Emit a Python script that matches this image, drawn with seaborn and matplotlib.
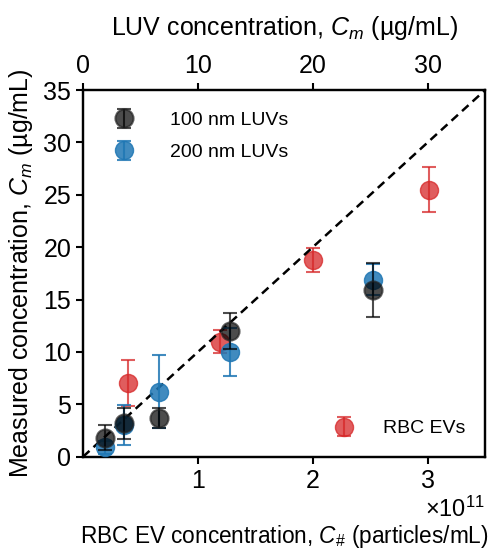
import matplotlib
matplotlib.use("Agg")
import matplotlib.pyplot as plt
from matplotlib.ticker import ScalarFormatter
import seaborn as sns
import numpy as np
import pandas as pd

# ---- data ----
luv_conc = [1.9, 3.6, 6.6, 12.8, 25.2]            # ug/mL (top axis)
luv100_meas = [1.8, 3.2, 3.7, 12.0, 15.9]
luv100_err = [1.2, 1.5, 1.0, 1.7, 2.6]
luv200_meas = [0.9, 3.0, 6.2, 10.0, 16.9]
luv200_err = [0.6, 1.9, 3.5, 2.3, 1.5]
rbc_conc = [0.39e11, 1.19e11, 2.0e11, 3.01e11]     # particles/mL (bottom axis)
rbc_meas = [7.0, 11.0, 18.8, 25.5]
rbc_err = [2.2, 1.1, 1.15, 2.15]

sns.set_style("ticks")
plt.rcParams['font.family'] = ['Liberation Sans', 'DejaVu Sans']
plt.rcParams['mathtext.fontset'] = 'custom'
plt.rcParams['mathtext.rm'] = 'Liberation Sans'
plt.rcParams['mathtext.it'] = 'Liberation Sans:italic'
plt.rcParams['mathtext.default'] = 'regular'
plt.rcParams['text.color'] = 'black'
plt.rcParams['axes.labelcolor'] = 'black'
plt.rcParams['axes.edgecolor'] = 'black'
plt.rcParams['legend.labelcolor'] = 'black'

fig = plt.figure(figsize=(4.94, 5.49), dpi=100)
ax = fig.add_axes([0.168, 0.168, 0.814, 0.668])
ax2 = ax.twiny()

df_rbc = pd.DataFrame({"x": rbc_conc, "y": rbc_meas, "e": rbc_err})
df100 = pd.DataFrame({"x": luv_conc, "y": luv100_meas, "e": luv100_err})
df200 = pd.DataFrame({"x": luv_conc, "y": luv200_meas, "e": luv200_err})

red = "#d62728"
blue = "#1f77b4"
blk = "#000000"
ms = 13

# dashed identity line on top axis
sns.lineplot(x=[0, 35], y=[0, 35], ax=ax2, color="black", linestyle=(0, (3.5, 2.2)), lw=1.8, zorder=1)

h_rbc = ax.errorbar(df_rbc.x, df_rbc.y, yerr=df_rbc.e, fmt='o', color=red, alpha=0.75,
                    ms=ms, mec=red, capsize=5, elinewidth=1.5, capthick=1.5, label="RBC EVs")
h200 = ax2.errorbar(df200.x, df200.y, yerr=df200.e, fmt='o', color=blue, alpha=0.85,
                    ms=ms, mec=blue, capsize=5, elinewidth=1.5, capthick=1.5, label="200 nm LUVs", zorder=3)
h100 = ax2.errorbar(df100.x, df100.y, yerr=df100.e, fmt='o', color=blk, alpha=0.7,
                    ms=ms, mec="#222222", mew=1.5, capsize=5, elinewidth=1.5, capthick=1.5,
                    label="100 nm LUVs", zorder=4)

ax.set_xlim(0, 3.5e11)
ax2.set_xlim(0, 35)
ax.set_ylim(0, 35)
ax.set_xticks([1e11, 2e11, 3e11])
ax2.set_xticks([0, 10, 20, 30])
ax.set_yticks(np.arange(0, 36, 5))
fmt = ScalarFormatter(useMathText=True)
ax.xaxis.set_major_formatter(fmt)

for a in (ax, ax2):
    for s in a.spines.values():
        s.set_linewidth(1.6)
        s.set_color('black')
        s.set_visible(True)
    a.tick_params(width=1.5, length=5, labelsize=18, direction='out', colors='black')
ax2.tick_params(axis='x', pad=4)

ax.set_xlabel(r"RBC EV concentration, $\mathit{C}_{\#}$ (particles/mL)", fontsize=16.3, labelpad=22)
ax2.set_xlabel(r"LUV concentration, $\mathit{C_m}$ (µg/mL)", fontsize=18, labelpad=13)
ax.set_ylabel(r"Measured concentration, $\mathit{C_m}$ (µg/mL)", fontsize=18, labelpad=6)
ax.xaxis.get_offset_text().set_fontsize(17)

leg1 = ax2.legend(handles=[h100, h200], loc="upper left", frameon=False, fontsize=14,
                  handletextpad=1.4, borderaxespad=0.7, labelspacing=0.75)
leg2 = ax.legend(handles=[h_rbc], loc="lower right", frameon=False, fontsize=14,
                 handletextpad=1.0, borderaxespad=0.6)

fig.savefig("out.png", dpi=100)
